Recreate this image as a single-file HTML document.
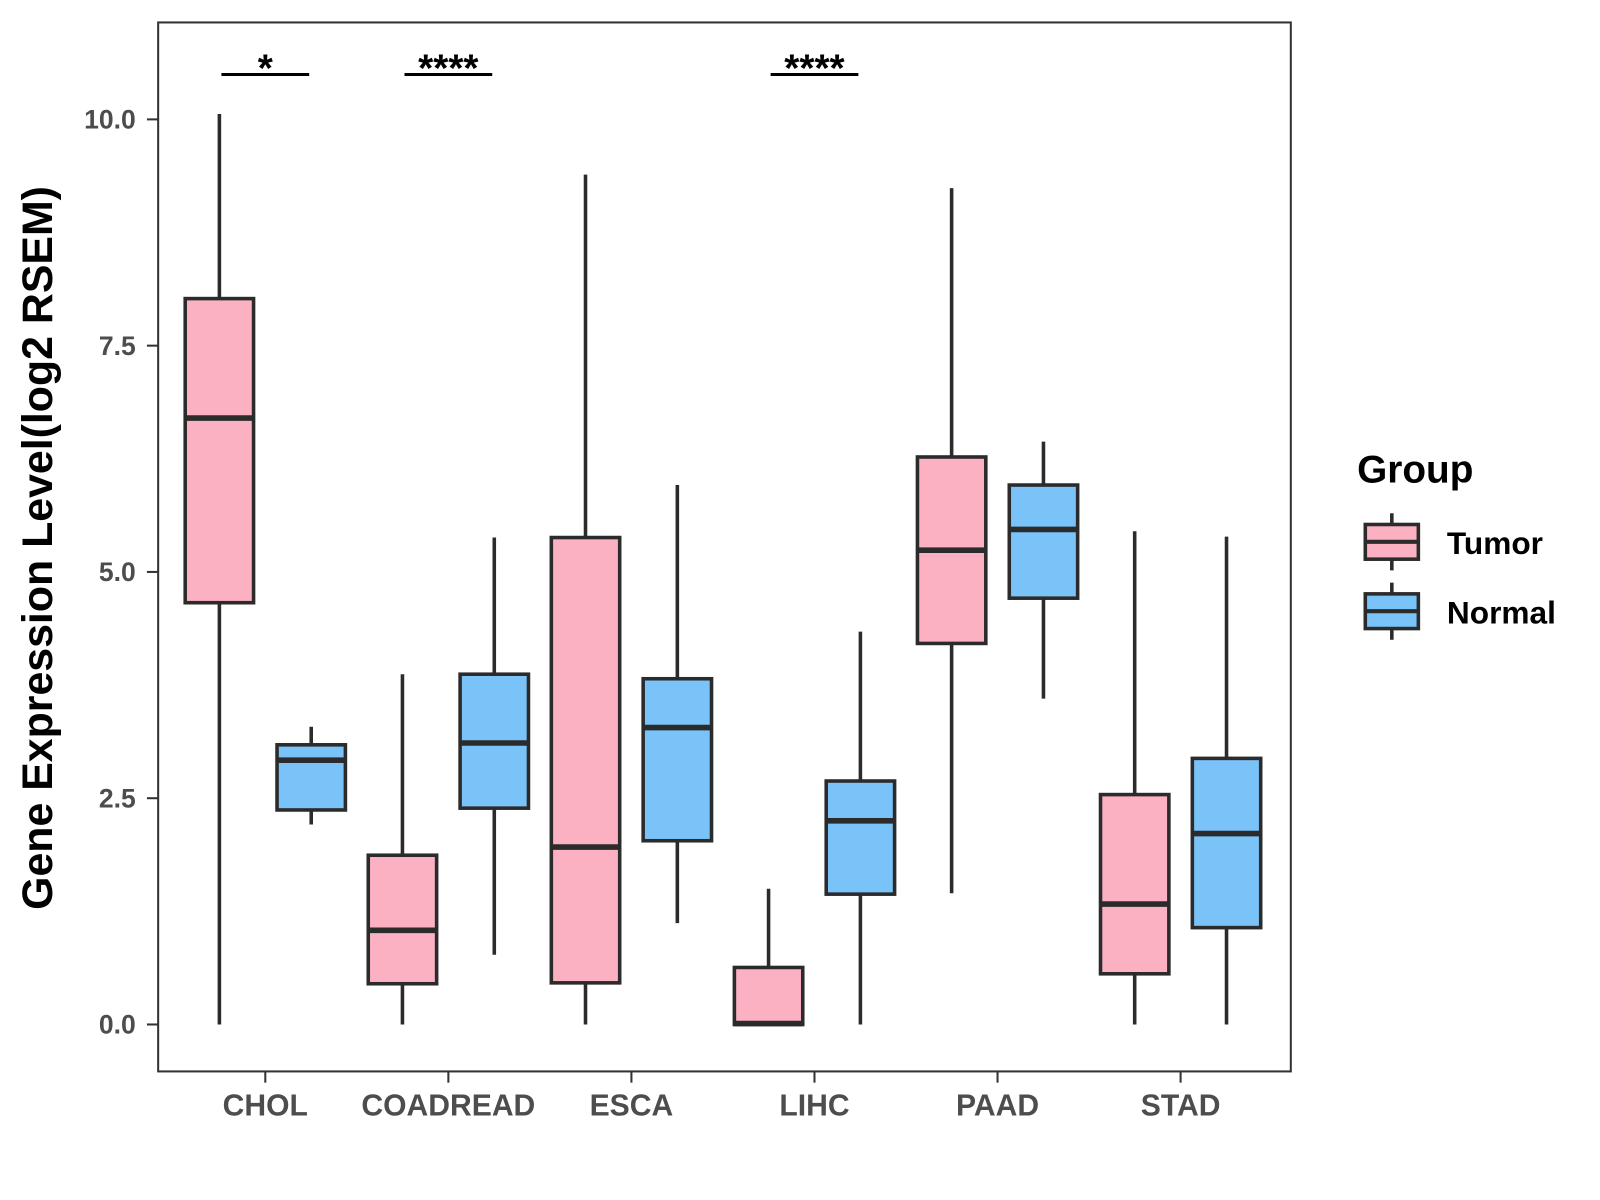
<!DOCTYPE html>
<html><head><meta charset="utf-8"><style>
body{margin:0;background:#fff}
svg{display:block;font-family:"Liberation Sans",Arial,sans-serif}
</style></head><body>
<svg id="chart" width="1600" height="1200" viewBox="0 0 1600 1200" xmlns="http://www.w3.org/2000/svg">
<g transform="scale(1.0204)">
<rect x="155" y="22" width="1110" height="1028" fill="#fff" stroke="#333" stroke-width="2"/>
<g id="marks"></g>
<text x="40" y="537" transform="rotate(-90 40 537)" text-anchor="middle" dominant-baseline="middle" font-size="42" font-weight="bold" fill="#000">Gene Expression Level(log2 RSEM)</text>
<g>
<text x="1330" y="473" font-size="38" font-weight="bold">Group</text>
<g>
<line x1="1364" y1="503" x2="1364" y2="559" stroke="#2b2b2b" stroke-width="3.5"/>
<rect x="1338" y="514" width="52" height="34" fill="#FCB1C3" stroke="#2b2b2b" stroke-width="3.5"/>
<line x1="1338" y1="531" x2="1390" y2="531" stroke="#2b2b2b" stroke-width="4"/>
<text x="1418" y="543" font-size="31" font-weight="bold">Tumor</text></g>
<g>
<line x1="1364" y1="571" x2="1364" y2="627" stroke="#2b2b2b" stroke-width="3.5"/>
<rect x="1338" y="582" width="52" height="34" fill="#79C3F9" stroke="#2b2b2b" stroke-width="3.5"/>
<line x1="1338" y1="599" x2="1390" y2="599" stroke="#2b2b2b" stroke-width="4"/>
<text x="1418" y="611" font-size="31" font-weight="bold">Normal</text></g>
</g>
</g>
</svg>
<script>
const categories=["CHOL","COADREAD","ESCA","LIHC","PAAD","STAD"];
const groups=["Tumor","Normal"];
// [min, q1, median, q3, max]
const tumorStats=[[0,4.66,6.70,8.02,10.06],[0,0.45,1.04,1.87,3.87],[0,0.46,1.96,5.38,9.39],[0,0,0.01,0.63,1.50],[1.45,4.21,5.24,6.27,9.24],[0,0.56,1.33,2.54,5.45]];
const normalStats=[[2.21,2.37,2.92,3.09,3.29],[0.77,2.39,3.11,3.87,5.38],[1.12,2.03,3.28,3.82,5.96],[0,1.44,2.25,2.69,4.34],[3.60,4.71,5.47,5.96,6.44],[0,1.07,2.11,2.94,5.39]];
const yTicks=[0,2.5,5,7.5,10];
const yTickLabels=["0.0","2.5","5.0","7.5","10.0"];
const sigCategories=["CHOL","COADREAD","LIHC"];
const sigLabels=["*","****","****"];

const NS="http://www.w3.org/2000/svg";
const g=document.getElementById("marks");
function y(v){return 1004-v*88.7;}
function x(i){return 260+i*179.4;}
function mk(t,a,txt){const e=document.createElementNS(NS,t);for(const k in a)e.setAttribute(k,a[k]);if(txt!==undefined)e.textContent=txt;g.appendChild(e);return e;}
yTicks.forEach((t,i)=>{
  const l=mk("line",{x1:144,x2:155,y1:y(t),y2:y(t),stroke:"#333","stroke-width":2});
  
  
  const tx=mk("text",{x:133,y:y(t)+9,"text-anchor":"end","font-size":26,"font-weight":"bold",fill:"#4d4d4d"},yTickLabels[i]);
  
  
});
categories.forEach((c,i)=>{
  const l=mk("line",{x1:x(i),x2:x(i),y1:1050,y2:1061,stroke:"#333","stroke-width":2});
  
  
  const tx=mk("text",{x:x(i),y:1093,"text-anchor":"middle","font-size":29.5,"font-weight":"bold",fill:"#4d4d4d"},c);
  
  
  [tumorStats[i],normalStats[i]].forEach((s,k)=>{
    const cx=x(i)+(k===0?-45:45), w=67;
    const grp=document.createElementNS(NS,"g");g.appendChild(grp);
    
    
    const add=(t,a)=>{const e=document.createElementNS(NS,t);for(const kk in a)e.setAttribute(kk,a[kk]);grp.appendChild(e);};
    add("line",{x1:cx,x2:cx,y1:y(s[0]),y2:y(s[4]),stroke:"#2b2b2b","stroke-width":3.5});
    add("rect",{x:cx-w/2,y:y(s[3]),width:w,height:y(s[1])-y(s[3]),fill:k===0?"#FCB1C3":"#79C3F9",stroke:"#2b2b2b","stroke-width":3.5});
    add("line",{x1:cx-w/2,x2:cx+w/2,y1:y(s[2]),y2:y(s[2]),stroke:"#2b2b2b","stroke-width":5.5});
  });
});
sigCategories.forEach((c,j)=>{
  const i=categories.indexOf(c);
  const l=mk("line",{x1:x(i)-43,x2:x(i)+43,y1:73,y2:73,stroke:"#000","stroke-width":3});
  
  
  const t=mk("text",{x:x(i),y:80,"text-anchor":"middle","font-size":38,"font-weight":"bold",fill:"#000"},sigLabels[j]);
  
  
});
</script>
</body></html>
